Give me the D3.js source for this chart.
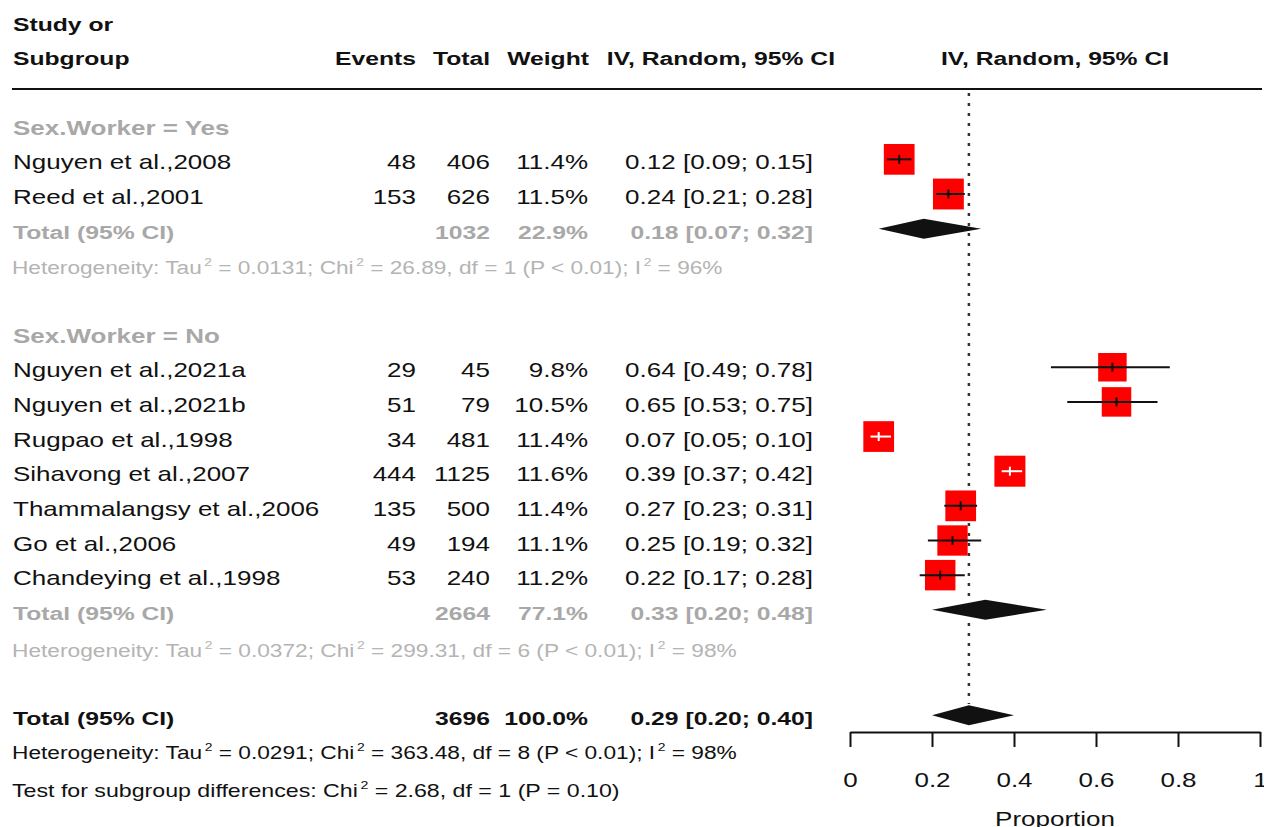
<!DOCTYPE html>
<html>
<head>
<meta charset="utf-8">
<script src="https://cdn.jsdelivr.net/npm/d3@7"></script>
<style>
  html, body { margin: 0; padding: 0; background: #ffffff; }
  svg { display: block; font-family: "Liberation Sans", Arial, sans-serif; }
</style>
</head>
<body>
<svg id="chart" width="1264" height="827"></svg>
<script>
// ---- Study-level data -------------------------------------------------
const studies  = ["Nguyen et al.,2008", "Reed et al.,2001",
                  "Nguyen et al.,2021a", "Nguyen et al.,2021b", "Rugpao et al.,1998",
                  "Sihavong et al.,2007", "Thammalangsy et al.,2006", "Go et al.,2006",
                  "Chandeying et al.,1998"];
const subgroupOf = [0, 0, 1, 1, 1, 1, 1, 1, 1];
const events   = [48, 153, 29, 51, 34, 444, 135, 49, 53];
const totals   = [406, 626, 45, 79, 481, 1125, 500, 194, 240];
const weights  = [11.4, 11.5, 9.8, 10.5, 11.4, 11.6, 11.4, 11.1, 11.2];
const props    = [0.12, 0.24, 0.64, 0.65, 0.07, 0.39, 0.27, 0.25, 0.22];
const lowers   = [0.09, 0.21, 0.49, 0.53, 0.05, 0.37, 0.23, 0.19, 0.17];
const uppers   = [0.15, 0.28, 0.78, 0.75, 0.10, 0.42, 0.31, 0.32, 0.28];

// ---- Subgroup summaries ------------------------------------------------
const subgroupLabels  = ["Sex.Worker = Yes", "Sex.Worker = No"];
const subgroupTotals  = [1032, 2664];
const subgroupWeights = [22.9, 77.1];
const subgroupProps   = [0.18, 0.33];
const subgroupLowers  = [0.07, 0.20];
const subgroupUppers  = [0.32, 0.48];
const subgroupTau2    = ["0.0131", "0.0372"];
const subgroupChi2    = ["26.89", "299.31"];
const subgroupDf      = [1, 6];
const subgroupI2      = [96, 98];

// ---- Overall random-effects summary ------------------------------------
const overallTotal  = 3696;
const overallWeight = 100.0;
const overallProp   = 0.29;
const overallLower  = 0.20;
const overallUpper  = 0.40;
const overallTau2   = "0.0291";
const overallChi2   = "363.48";
const overallDf     = 8;
const overallI2     = 98;
const testChi2      = "2.68";
const testDf        = 1;
const testP         = "0.10";

// ---- Axis ---------------------------------------------------------------
const axisTicks = [0, 0.2, 0.4, 0.6, 0.8, 1];
const axisTitle = "Proportion";

// ---- Layout -------------------------------------------------------------
const svg = d3.select("#chart");
const x = d3.scaleLinear().domain([0, 1]).range([850, 1260]);
const rowY = d3.scaleLinear().domain([0, 1]).range([124.7, 159.35]);

const BLACK = "#111111";
const GREY = "#a8a8a8";
const HET_GREY = "#b4b4b4";
const SX = 1.3; // horizontal stretch of the table typeface

const fmt2 = d3.format(".2f");
const fmt1 = d3.format(".1f");
const ciText = (e, l, u) => `${fmt2(e)} [${fmt2(l)}; ${fmt2(u)}]`;

function label(g, xPos, yPos, str, o = {}) {
  return g.append("text")
    .attr("transform", `translate(${xPos},${yPos}) scale(${o.sx ?? SX},1)`)
    .attr("text-anchor", o.anchor || "start")
    .attr("font-size", o.size || 20)
    .attr("font-weight", o.bold ? "bold" : "normal")
    .attr("fill", o.fill || BLACK)
    .text(str);
}

// text with superscript "2"s, stretched to a given width
function supLine(g, xPos, yPos, parts, fill, width) {
  const t = g.append("text").attr("font-size", 18).attr("fill", fill);
  let raised = false;
  parts.forEach(p => {
    const ts = t.append("tspan");
    if (typeof p === "string") {
      ts.text(p);
      if (raised) { ts.attr("dy", 8); raised = false; }
    } else {
      ts.text(p.sup).attr("font-size", 11).attr("dy", -8).attr("dx", 2);
      raised = true;
    }
  });
  const w = t.node().getBBox().width;
  t.attr("transform", `translate(${xPos},${yPos}) scale(${width / w},1)`);
  return t;
}

const hetParts = (tau, chi, df, i2) => [
  "Heterogeneity: Tau", { sup: "2" }, ` = ${tau}; Chi`, { sup: "2" },
  ` = ${chi}, df = ${df} (P < 0.01); I`, { sup: "2" }, ` = ${i2}%`
];

const colEvents = 416, colTotal = 490, colWeight = 588, colCI = 813, colStudy = 13;

// ---- Header -------------------------------------------------------------
const head = svg.append("g");
label(head, colStudy, 31, "Study or", { bold: true, size: 19 });
label(head, colStudy, 65, "Subgroup", { bold: true, size: 19 });
label(head, colEvents, 65, "Events", { bold: true, size: 19, anchor: "end" });
label(head, colTotal, 65, "Total", { bold: true, size: 19, anchor: "end" });
label(head, 589, 65, "Weight", { bold: true, size: 19, anchor: "end" });
label(head, 835, 65, "IV, Random, 95% CI", { bold: true, size: 19, anchor: "end" });
label(head, x(0.5), 65, "IV, Random, 95% CI", { bold: true, size: 19, anchor: "middle" });
head.append("line").attr("x1", 12).attr("x2", 1262).attr("y1", 89).attr("y2", 89)
  .attr("stroke", BLACK).attr("stroke-width", 2);

// ---- Reference line at the pooled estimate ------------------------------
svg.append("line")
  .attr("x1", x(overallProp)).attr("x2", x(overallProp))
  .attr("y1", 93).attr("y2", 704)
  .attr("stroke", "#333").attr("stroke-width", 2.5)
  .attr("stroke-dasharray", "3 7");

// ---- Rows ---------------------------------------------------------------
const table = svg.append("g");
const marks = svg.append("g");
const TXT = 10; // baseline offset from row centre

function diamond(yc, e, l, u) {
  const pts = [[x(l), yc], [x(e), yc - 10], [x(u), yc], [x(e), yc + 10]];
  marks.append("polygon").attr("points", pts.map(p => p.join(",")).join(" "))
    .attr("fill", BLACK);
}

let row = 0;
subgroupLabels.forEach((sg, gi) => {
  label(table, colStudy, rowY(row) + TXT, sg, { bold: true, fill: GREY });
  row++;
  studies.forEach((name, i) => {
    if (subgroupOf[i] !== gi) return;
    const yc = rowY(row);
    label(table, colStudy, yc + TXT, name);
    label(table, colEvents, yc + TXT, events[i], { anchor: "end" });
    label(table, colTotal, yc + TXT, totals[i], { anchor: "end" });
    label(table, colWeight, yc + TXT, fmt1(weights[i]) + "%", { anchor: "end" });
    label(table, colCI, yc + TXT, ciText(props[i], lowers[i], uppers[i]), { anchor: "end" });

    const side = 31 * Math.sqrt(weights[i] / 11.6);
    marks.append("rect")
      .attr("x", x(props[i]) - side / 2).attr("y", yc - side / 2)
      .attr("width", side).attr("height", side).attr("fill", "#ff0000");
    const inside = (x(uppers[i]) - x(lowers[i])) < 0.75 * side;
    const c = inside ? "#ffffff" : BLACK;
    marks.append("line")
      .attr("x1", x(lowers[i])).attr("x2", x(uppers[i]))
      .attr("y1", yc).attr("y2", yc)
      .attr("stroke", c).attr("stroke-width", 2);
    marks.append("line")
      .attr("x1", x(props[i])).attr("x2", x(props[i]))
      .attr("y1", yc - 4.5).attr("y2", yc + 4.5)
      .attr("stroke", c).attr("stroke-width", 2);
    row++;
  });
  const ys = rowY(row);
  label(table, colStudy, ys + TXT, "Total (95% CI)", { bold: true, size: 19, fill: GREY });
  label(table, colTotal, ys + TXT, subgroupTotals[gi], { bold: true, size: 19, fill: GREY, anchor: "end" });
  label(table, colWeight, ys + TXT, fmt1(subgroupWeights[gi]) + "%", { bold: true, size: 19, fill: GREY, anchor: "end" });
  label(table, colCI, ys + TXT, ciText(subgroupProps[gi], subgroupLowers[gi], subgroupUppers[gi]),
        { bold: true, size: 19, fill: GREY, anchor: "end" });
  diamond(ys, subgroupProps[gi], subgroupLowers[gi], subgroupUppers[gi]);
  row++;
  supLine(table, 12, rowY(row) + 11 + gi * 2,
          hetParts(subgroupTau2[gi], subgroupChi2[gi], subgroupDf[gi], subgroupI2[gi]),
          HET_GREY, gi === 0 ? 711 : 725);
  row += 2;
});

// overall
const yo = rowY(row) + 1.5;
label(table, colStudy, yo + TXT, "Total (95% CI)", { bold: true, size: 19 });
label(table, colTotal, yo + TXT, overallTotal, { bold: true, size: 19, anchor: "end" });
label(table, colWeight, yo + TXT, fmt1(overallWeight) + "%", { bold: true, size: 19, anchor: "end" });
label(table, colCI, yo + TXT, ciText(overallProp, overallLower, overallUpper),
      { bold: true, size: 19, anchor: "end" });
diamond(yo, overallProp, overallLower, overallUpper);
supLine(table, 12, 759, hetParts(overallTau2, overallChi2, overallDf, overallI2), BLACK, 725);
supLine(table, 12, 797,
        ["Test for subgroup differences: Chi", { sup: "2" }, ` = ${testChi2}, df = ${testDf} (P = ${testP})`],
        BLACK, 608);

// ---- Axis ---------------------------------------------------------------
const axisG = svg.append("g").attr("transform", "translate(0,732)")
  .call(d3.axisBottom(x).tickValues(axisTicks).tickSize(15).tickSizeOuter(0)
        .tickFormat(d => String(d)));
axisG.select(".domain").attr("stroke", BLACK).attr("stroke-width", 2);
axisG.selectAll(".tick line").attr("stroke", BLACK).attr("stroke-width", 2);
axisG.selectAll(".tick text")
  .attr("y", 0).attr("dy", null)
  .attr("transform", `translate(0,55) scale(${SX},1)`)
  .attr("font-size", 20).attr("font-family", "Liberation Sans, Arial, sans-serif")
  .attr("fill", BLACK);
label(svg, x(0.5), 826, axisTitle, { anchor: "middle" });
</script>
</body>
</html>
